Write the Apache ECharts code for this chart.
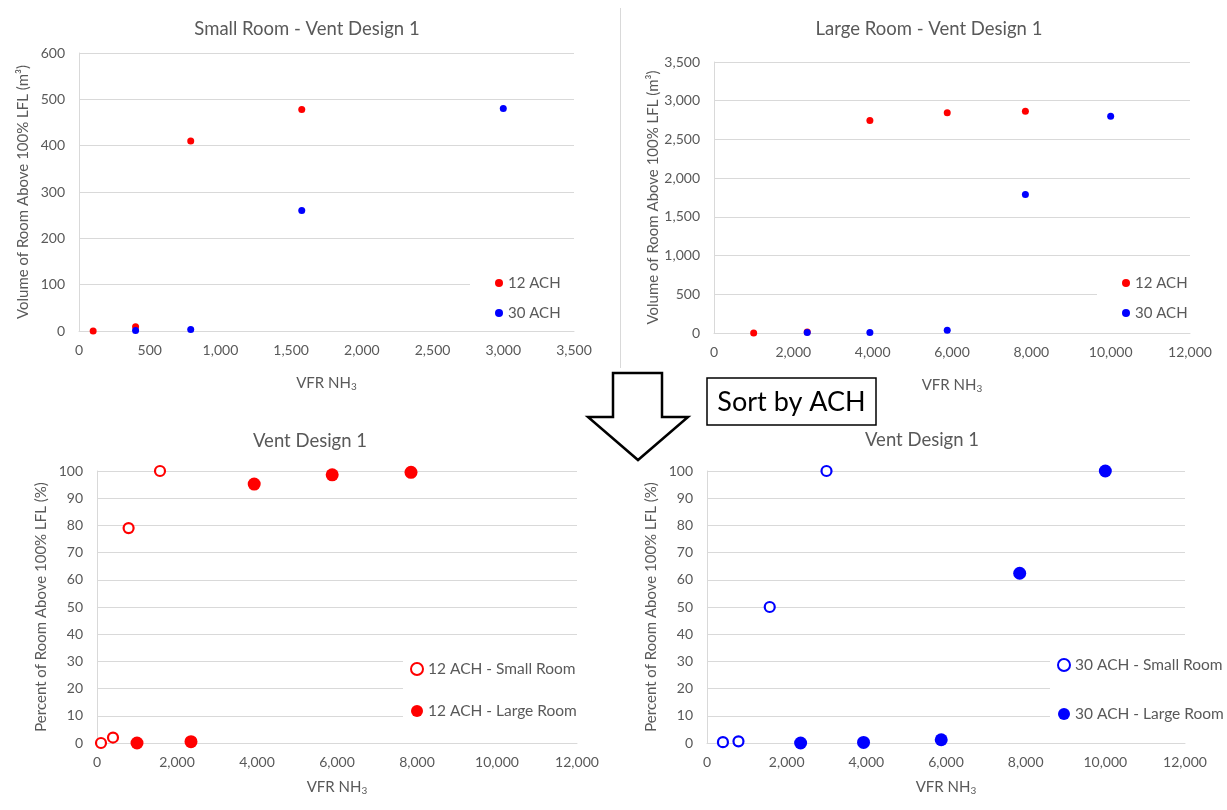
<!DOCTYPE html>
<html>
<head>
<meta charset="utf-8">
<title>Vent Design 1 – VFR NH3</title>
<script src="https://cdn.jsdelivr.net/npm/echarts@6/dist/echarts.min.js"></script>
<style>
  html, body { margin: 0; padding: 0; background: #fff; }
  #chart { width: 1227px; height: 810px; }
</style>
</head>
<body>
<div id="chart"></div>
<script>
// Volumetric flow rate of NH3 (x) for each room / air-change rate
const smallX12 = [100, 400, 790, 1575];
const smallX30 = [400, 790, 1575, 3000];
const largeX12 = [1000, 2350, 3930, 5880, 7850];
const largeX30 = [2350, 3930, 5880, 7850, 10000];

// Volume of room above 100% LFL (m³)
const smallVol12 = [0, 9, 410, 478];
const smallVol30 = [1, 3, 260, 480];
const largeVol12 = [0, 14, 2745, 2845, 2865];
const largeVol30 = [5, 8, 35, 1790, 2800];

// Percent of room above 100% LFL (%)
const smallPct12 = [0, 2, 79, 100];
const largePct12 = [0, 0.5, 95.2, 98.6, 99.5];
const smallPct30 = [0.3, 0.6, 50, 100];
const largePct30 = [0, 0.2, 1.2, 62.4, 100];

const titles = ['Small Room - Vent Design 1', 'Large Room - Vent Design 1', 'Vent Design 1', 'Vent Design 1'];
const volumeName = 'Volume of Room Above 100% LFL (m³)';
const percentName = 'Percent of Room Above 100% LFL (%)';
const xName = 'VFR NH{s|3}';

const RED = '#ff0000';
const BLUE = '#0000ff';
const GREY = '#595959';
const GRID = '#d9d9d9';
const FONT = 'Lato, "Open Sans", sans-serif';

const pairs = (xs, ys) => xs.map((x, i) => [x, ys[i]]);
const fmt = v => v.toLocaleString('en-US');

function xAxis(gridIndex, max, interval, nameGap) {
  return {
    type: 'value', gridIndex, min: 0, max, interval,
    name: xName, nameLocation: 'middle', nameGap,
    nameTextStyle: {
      color: GREY, fontFamily: FONT, fontSize: 15,
      rich: { s: { fontSize: 10, color: GREY, fontFamily: FONT, padding: [8, 0, 0, 0] } }
    },
    axisLine: { show: true, lineStyle: { color: GRID } },
    axisTick: { show: false },
    splitLine: { show: false },
    axisLabel: { color: GREY, fontFamily: FONT, fontSize: 14, margin: 12, formatter: fmt }
  };
}

function yAxis(gridIndex, max, interval, name) {
  return {
    type: 'value', gridIndex, min: 0, max, interval,
    name, nameLocation: 'middle', nameGap: 48, nameRotate: 90,
    nameTextStyle: { color: GREY, fontFamily: FONT, fontSize: 15 },
    axisLine: { show: true, lineStyle: { color: GRID } },
    axisTick: { show: false },
    splitLine: { show: true, lineStyle: { color: GRID, width: 1 } },
    axisLabel: { color: GREY, fontFamily: FONT, fontSize: 14, margin: 14, formatter: fmt }
  };
}

function dotSeries(name, idx, data, color) {
  return {
    type: 'scatter', name, xAxisIndex: idx, yAxisIndex: idx,
    symbol: 'circle', symbolSize: 7, data,
    itemStyle: { color, opacity: 1 }
  };
}
function filledSeries(name, idx, data, color) {
  return {
    type: 'scatter', name, xAxisIndex: idx, yAxisIndex: idx,
    symbol: 'circle', symbolSize: 13, data,
    itemStyle: { color, opacity: 1 }
  };
}
function hollowSeries(name, idx, data, color) {
  return {
    type: 'scatter', name, xAxisIndex: idx, yAxisIndex: idx,
    symbol: 'circle', symbolSize: 10, data,
    itemStyle: { color: '#fff', borderColor: color, borderWidth: 2.2, opacity: 1 }
  };
}

function legend(data, left, top, size, fontSize, lineHeight, gap, padding) {
  return {
    data, orient: 'vertical', left, top, padding,
    backgroundColor: '#fff',
    icon: 'circle', itemWidth: size, itemHeight: size, itemGap: gap,
    selectedMode: false,
    textStyle: { color: GREY, fontFamily: FONT, fontSize, lineHeight }
  };
}

const option = {
  backgroundColor: '#fff',
  animation: false,
  title: [
    { text: titles[0], left: 307, top: 20 },
    { text: titles[1], left: 929, top: 20 },
    { text: titles[2], left: 310, top: 432 },
    { text: titles[3], left: 922, top: 431 }
  ].map(t => Object.assign(t, {
    textAlign: 'center', padding: 0,
    textStyle: { color: GREY, fontFamily: FONT, fontSize: 18.5, fontWeight: 'normal' }
  })),
  grid: [
    { left: 79, right: 653, top: 53, bottom: 479 },
    { left: 714, right: 37, top: 62, bottom: 477 },
    { left: 97, right: 650, top: 471, bottom: 67 },
    { left: 707, right: 42, top: 471, bottom: 67 }
  ],
  xAxis: [
    xAxis(0, 3500, 500, 43),
    xAxis(1, 12000, 2000, 43),
    xAxis(2, 12000, 2000, 35),
    xAxis(3, 12000, 2000, 35)
  ],
  yAxis: [
    yAxis(0, 600, 100, volumeName),
    yAxis(1, 3500, 500, volumeName),
    yAxis(2, 100, 10, percentName),
    yAxis(3, 100, 10, percentName)
  ],
  legend: [
    legend(['12 ACH', '30 ACH'], 470, 267, 8, 15, 16, 14, [8, 20, 4, 25]),
    legend(['12 ACH', '30 ACH'], 1097, 267, 8, 15, 16, 14, [8, 20, 4, 25]),
    legend(['12 ACH - Small Room', '12 ACH - Large Room'], 403, 650, 12, 15.5, 18, 24, [10, 6, 8, 7]),
    legend(['30 ACH - Small Room', '30 ACH - Large Room'], 1050, 646, 12, 15.5, 18, 31, [10, 0, 8, 7])
  ],
  series: [
    dotSeries('12 ACH', 0, pairs(smallX12, smallVol12), RED),
    dotSeries('30 ACH', 0, pairs(smallX30, smallVol30), BLUE),
    dotSeries('12 ACH', 1, pairs(largeX12, largeVol12), RED),
    dotSeries('30 ACH', 1, pairs(largeX30, largeVol30), BLUE),
    hollowSeries('12 ACH - Small Room', 2, pairs(smallX12, smallPct12), RED),
    filledSeries('12 ACH - Large Room', 2, pairs(largeX12, largePct12), RED),
    hollowSeries('30 ACH - Small Room', 3, pairs(smallX30, smallPct30), BLUE),
    filledSeries('30 ACH - Large Room', 3, pairs(largeX30, largePct30), BLUE)
  ],
  graphic: [
    // divider between the two upper charts
    { type: 'line', shape: { x1: 620.5, y1: 8, x2: 620.5, y2: 368 },
      style: { stroke: GRID, lineWidth: 1 } },
    // down arrow
    { type: 'polygon', z: 10,
      shape: { points: [[613, 373], [662, 373], [662, 417], [688, 417], [638, 460], [588, 417], [613, 417]] },
      style: { fill: '#fff', stroke: '#000', lineWidth: 2.5, lineJoin: 'miter' } },
    // "Sort by ACH" box
    { type: 'rect', z: 10, shape: { x: 707, y: 378, width: 169, height: 47 },
      style: { fill: '#fff', stroke: '#000', lineWidth: 1.5 } },
    { type: 'text', z: 11, x: 791.5, y: 402,
      style: { text: 'Sort by ACH', fill: '#000', font: '27px Lato, "Open Sans", sans-serif',
               textAlign: 'center', textVerticalAlign: 'middle' } }
  ]
};

const chart = echarts.init(document.getElementById('chart'), null, { renderer: 'canvas' });
chart.setOption(option);
</script>
</body>
</html>
